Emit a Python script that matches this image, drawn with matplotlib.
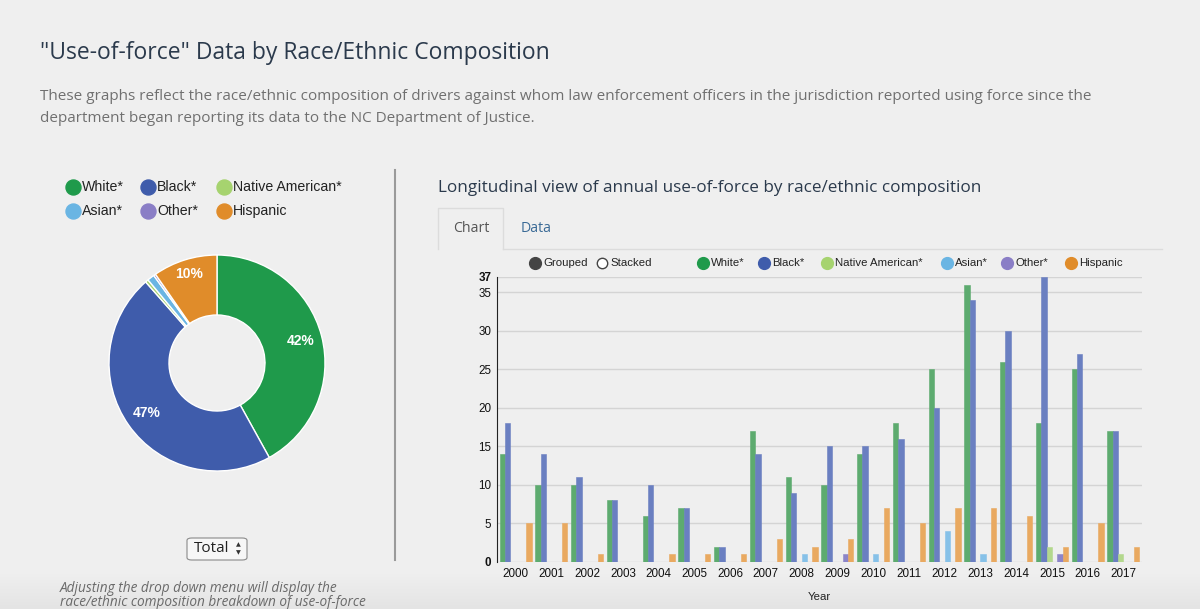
import matplotlib.pyplot as plt
import numpy as np
from matplotlib.lines import Line2D
from matplotlib.patches import FancyBboxPatch
from matplotlib.colors import LinearSegmentedColormap

W, H = 1200, 609
BG = '#efefef'

years = list(range(2000, 2018))
races = ['White*', 'Black*', 'Native American*', 'Asian*', 'Other*', 'Hispanic']
white = [14, 10, 10, 8, 6, 7, 2, 17, 11, 10, 14, 18, 25, 36, 26, 18, 25, 17]
black = [18, 14, 11, 8, 10, 7, 2, 14, 9, 15, 15, 16, 20, 34, 30, 37, 27, 17]
native = [0, 0, 0, 0, 0, 0, 0, 0, 0, 0, 0, 0, 0, 0, 0, 2, 0, 1]
asian = [0, 0, 0, 0, 0, 0, 0, 0, 1, 0, 1, 0, 4, 1, 0, 0, 0, 0]
other = [0, 0, 0, 0, 0, 0, 0, 0, 0, 1, 0, 0, 0, 0, 0, 1, 0, 0]
hispanic = [5, 5, 1, 0, 1, 1, 1, 3, 2, 3, 7, 5, 7, 7, 6, 2, 5, 2]
series = [white, black, native, asian, other, hispanic]

pie_colors = ['#1f9a4b', '#3f5cab', '#a6d36f', '#6ab5e3', '#8a7ec6', '#e08c2a']
bar_colors = ['#5dab6f', '#6a7fc1', '#b3d88d', '#86c1e8', '#8c85c9', '#e9a960']

plt.rcParams['font.family'] = ['Liberation Sans', 'DejaVu Sans']

fig = plt.figure(figsize=(W / 100, H / 100), dpi=100, facecolor=BG)


def px(x, y):
    return x / W, 1 - y / H


def text(x, y, s, **kw):
    fx, fy = px(x, y)
    fig.text(fx, fy, s, **kw)


# faint shadow at the bottom of the page
grad = fig.add_axes([0, 0, 1, 36 / H], zorder=-5)
shade = LinearSegmentedColormap.from_list('shade', [BG, '#e4e4e4'])
grad.imshow(np.linspace(0, 1, 36)[:, None], aspect='auto', cmap=shade, extent=[0, 1, 0, 1])
grad.axis('off')

# headings
text(40, 53, '"Use-of-force" Data by Race/Ethnic Composition', fontsize=16.5,
     color='#2b3a4c', family=['Open Sans'], va='center')
text(40, 97, 'These graphs reflect the race/ethnic composition of drivers against whom law enforcement '
     'officers in the jurisdiction reported using force since the', fontsize=11.0,
     color='#707070', family=['Open Sans'], va='center')
text(40, 119, 'department began reporting its data to the NC Department of Justice.', fontsize=11.0,
     color='#707070', family=['Open Sans'], va='center')

# left legend
leg_pos = [(73, 187), (148, 187), (224, 187), (73, 211), (148, 211), (224, 211)]
for (x, y), lab, c in zip(leg_pos, races, pie_colors):
    fx, fy = px(x, y)
    fig.add_artist(Line2D([fx], [fy], marker='o', markersize=10.8, color=c,
                          linestyle='none', transform=fig.transFigure))
    text(x + 9, y, lab, fontsize=10.2, color='#222222', va='center')

# donut
cx, cy, r = 217, 363, 108
pax = fig.add_axes([(cx - r) / W, (H - cy - r) / H, 2 * r / W, 2 * r / H])
totals = [sum(s) for s in series]
grand = sum(totals)
pax.pie(totals, colors=pie_colors, startangle=90, counterclock=False,
        wedgeprops=dict(width=1 - 48 / 108, edgecolor='white', linewidth=1))
ang = 90.0
for t in totals:
    frac = t / grand
    mid = np.deg2rad(ang - frac * 180)
    ang -= frac * 360
    if frac >= 0.05:
        rr = 0.8 if frac > 0.2 else 0.86
        pax.text(rr * np.cos(mid), rr * np.sin(mid), f'{round(frac * 100)}%',
                 ha='center', va='center', color='white', fontsize=10, fontweight='bold')
pax.set_aspect('equal')
pax.set_xlim(-1, 1)
pax.set_ylim(-1, 1)

# divider
fig.add_artist(Line2D([395 / W, 395 / W], [px(0, 170)[1], px(0, 560)[1]],
                      color='#9a9a9a', linewidth=1.5, transform=fig.transFigure))

# dropdown
bx0, by0 = px(187, 560)
box = FancyBboxPatch((bx0, by0), 60 / W, 22 / H, boxstyle='round,pad=0,rounding_size=0.004',
                     transform=fig.transFigure, facecolor='#f7f7f7', edgecolor='#8a8a8a', linewidth=0.8)
fig.add_artist(box)
text(194, 549, 'Total', fontsize=11, color='#222222', family=['Open Sans'], va='center')
text(238, 545, '\u25b2', fontsize=4.5, color='#333333', ha='center', va='center', family=['DejaVu Sans'])
text(238, 553, '\u25bc', fontsize=4.5, color='#333333', ha='center', va='center', family=['DejaVu Sans'])

text(60, 588, 'Adjusting the drop down menu will display the', fontsize=9.8, style='italic',
     color='#6a6a6a', family=['Open Sans'], va='center')
text(60, 602, 'race/ethnic composition breakdown of use-of-force', fontsize=9.8, style='italic',
     color='#6a6a6a', family=['Open Sans'], va='center')

# right panel heading and tabs
text(438, 188, 'Longitudinal view of annual use-of-force by race/ethnic composition', fontsize=12.35,
     color='#2b3a4c', family=['Open Sans'], va='center')
tab = [px(438, 249), px(438, 208), px(503, 208), px(503, 249)]
fig.add_artist(Line2D([p[0] for p in tab], [p[1] for p in tab], color='#dcdcdc',
                      linewidth=1, transform=fig.transFigure))
fig.add_artist(Line2D([503 / W, 1162 / W], [px(0, 249)[1]] * 2, color='#dcdcdc',
                      linewidth=1, transform=fig.transFigure))
text(471, 228, 'Chart', fontsize=10.2, color='#555555', family=['Open Sans'], ha='center', va='center')
text(536, 228, 'Data', fontsize=10.2, color='#3a6a96', family=['Open Sans'], ha='center', va='center')

# chart legend
fx, fy = px(535, 263)
fig.add_artist(Line2D([fx], [fy], marker='o', markersize=8.5, color='#444444',
                      linestyle='none', transform=fig.transFigure))
text(543, 263, 'Grouped', fontsize=8.2, color='#222222', va='center')
fx, fy = px(602, 263)
fig.add_artist(Line2D([fx], [fy], marker='o', markersize=7.5, markerfacecolor='white',
                      markeredgecolor='#444444', markeredgewidth=1, linestyle='none',
                      transform=fig.transFigure))
text(610, 263, 'Stacked', fontsize=8.2, color='#222222', va='center')
for x, lab, c in zip([703, 764, 827, 947, 1007, 1071], races, pie_colors):
    fx, fy = px(x, 263)
    fig.add_artist(Line2D([fx], [fy], marker='o', markersize=8.5, color=c,
                          linestyle='none', transform=fig.transFigure))
    text(x + 8, 263, lab, fontsize=8.2, color='#222222', va='center')

# bar chart
ax = fig.add_axes([497 / W, (H - 562) / H, (1142 - 497) / W, (562 - 277) / H])
ax.set_facecolor(BG)
x = np.arange(len(years))
bw = 0.15
for j, (vals, c) in enumerate(zip(series, bar_colors)):
    ax.bar(x + (j - 2.5) * bw, vals, width=bw, color=c, edgecolor=c, linewidth=0.4, zorder=3)
ax.set_xlim(-0.52, len(years) - 0.48)
ax.set_ylim(0, 37)
ax.set_yticks([0, 5, 10, 15, 20, 25, 30, 35, 37])
ax.set_yticklabels(['0', '5', '10', '15', '20', '25', '30', '35', '37'])
for lab in ax.get_yticklabels():
    if lab.get_text() in ('0', '37'):
        lab.set_fontweight('bold')
ax.set_xticks(x)
ax.set_xticklabels([str(y) for y in years])
ax.tick_params(axis='both', labelsize=8.4, colors='#111111', length=0)
ax.tick_params(axis='y', pad=4)
ax.tick_params(axis='x', pad=4)
ax.grid(axis='y', color='#d4d4d4', linewidth=1, zorder=0)
for s in ['top', 'right', 'bottom']:
    ax.spines[s].set_visible(False)
ax.spines['left'].set_color('#222222')
ax.spines['left'].set_linewidth(0.8)
ax.set_xlabel('Year', fontsize=8.2, color='#222222', labelpad=9)

fig.savefig('out.png', dpi=100, facecolor=BG)
